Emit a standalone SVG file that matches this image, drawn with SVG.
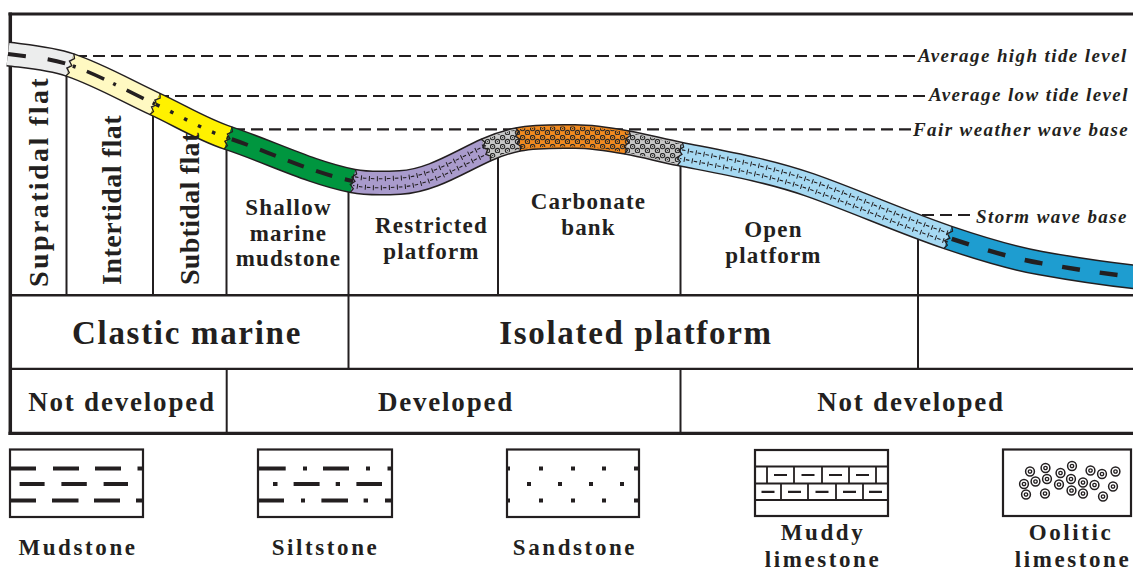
<svg xmlns="http://www.w3.org/2000/svg" xmlns:xlink="http://www.w3.org/1999/xlink" width="1133" height="570" viewBox="0 0 1133 570">
<style>
.ln{stroke:#231F20;fill:none}
.t{font-family:"Liberation Serif","Times New Roman",serif;font-weight:bold;fill:#231F20}
.z{font-size:23px;letter-spacing:1.2px;text-anchor:middle}
.big{font-size:33px;letter-spacing:1.7px;text-anchor:middle}
.row{font-size:27px;letter-spacing:1.8px;text-anchor:middle}
.lg{font-size:23px;letter-spacing:2.6px;text-anchor:middle}
.lv{font-size:19px;font-style:italic;letter-spacing:1.4px}
.dl{stroke:#231F20;stroke-width:2.2;stroke-dasharray:12 6;fill:none}
.band{fill:none;stroke-width:22;stroke-linecap:butt}
.pat{fill:none;stroke:#231F20;stroke-linecap:butt}
.brk{fill:none;stroke:#231F20;stroke-width:1.1;stroke-dasharray:3.5 4.5}
.tick{fill:none;stroke:#231F20;stroke-width:5;stroke-dasharray:1 7}
.blk{fill:#231F20}
</style>
<defs>
<path id="full" d="M8,54 C28.8,56.7 50.1,58.2 70,65 C99.5,75 126.7,91 155,104 C179.3,115.2 202.5,129.6 228,138 C269.9,151.8 309.7,172.4 353,181 C368.4,184.1 384.3,183.3 400,182.5 C430.6,181 458.1,162.6 486,150 C496.2,145.4 507,141.7 518,139.5 C536.6,135.8 556,136.5 575,136.5 C592.4,136.5 609.9,139.4 627,142.5 C644.8,145.7 662.2,150.5 680,154 C723.7,162.7 768,170.3 810,185 C856.4,201.3 901.4,221.7 948,237.5 C978.1,247.7 1008.7,257.4 1040,263 C1073.2,269 1106.5,274.1 1140,277.5"/>
<path id="s1" d="M8,54 C28.8,56.7 50.1,58.2 70,65"/>
<path id="s2" d="M70,65 C99.5,75 126.7,91 155,104"/>
<path id="s3" d="M155,104 C179.3,115.2 202.5,129.6 228,138"/>
<path id="s4" d="M228,138 C269.9,151.8 309.7,172.4 353,181"/>
<path id="s5" d="M353,181 C368.4,184.1 384.3,183.3 400,182.5 C430.6,181 458.1,162.6 486,150"/>
<path id="s6" d="M486,150 C496.2,145.4 507,141.7 518,139.5"/>
<path id="s7" d="M518,139.5 C536.6,135.8 556,136.5 575,136.5 C592.4,136.5 609.9,139.4 627,142.5"/>
<path id="s8" d="M627,142.5 C644.8,145.7 662.2,150.5 680,154"/>
<path id="s9" d="M680,154 C723.7,162.7 768,170.3 810,185 C856.4,201.3 901.4,221.7 948,237.5"/>
<path id="s10" d="M948,237.5 C978.1,247.7 1008.7,257.4 1040,263 C1073.2,269 1106.5,274.1 1140,277.5"/>
<path id="zz" d="M0,-12 L2.2,-7.5 L-1.8,-3.5 L2,0 L-2,4 L1.8,7.5 L-0.5,12" fill="none" stroke="#231F20" stroke-width="1.3"/>
<pattern id="oo" width="10" height="9" patternUnits="userSpaceOnUse">
<circle cx="2.6" cy="2.6" r="2.2" fill="none" stroke="#2a2a2a" stroke-width="1.1"/>
<circle cx="2.6" cy="2.6" r="0.7" fill="#2a2a2a"/>
<circle cx="7.5" cy="6.6" r="2.2" fill="none" stroke="#2a2a2a" stroke-width="1.1"/>
<circle cx="7.5" cy="6.6" r="0.7" fill="#2a2a2a"/>
</pattern>
<g id="ooid"><circle r="4.4" fill="none" stroke="#231F20" stroke-width="1.5"/><circle r="1.7" fill="none" stroke="#231F20" stroke-width="1.3"/></g>
</defs>
<rect width="1133" height="570" fill="#ffffff"/>

<g id="frame" class="ln">
<line x1="8.5" y1="14" x2="1133" y2="14" stroke-width="3"/>
<line x1="10.3" y1="12.5" x2="10.3" y2="435" stroke-width="3.5"/>
<line x1="8.5" y1="433.3" x2="1133" y2="433.3" stroke-width="3.3"/>
<line x1="10" y1="295.3" x2="1133" y2="295.3" stroke-width="2.5"/>
<line x1="10" y1="368.8" x2="1133" y2="368.8" stroke-width="2.3"/>
<g stroke-width="2">
<line x1="66.5" y1="60" x2="66.5" y2="295"/>
<line x1="153" y1="100" x2="153" y2="295"/>
<line x1="226.5" y1="135" x2="226.5" y2="295"/>
<line x1="348.5" y1="178" x2="348.5" y2="295"/>
<line x1="498" y1="142" x2="498" y2="295"/>
<line x1="680.5" y1="152" x2="680.5" y2="295"/>
<line x1="918" y1="224" x2="918" y2="295"/>
<line x1="348.5" y1="295" x2="348.5" y2="369"/>
<line x1="918" y1="295" x2="918" y2="369"/>
<line x1="226.7" y1="368" x2="226.7" y2="433"/>
<line x1="680.5" y1="368" x2="680.5" y2="433"/>
</g>
</g>

<g id="connectors">
<path class="dl" d="M75,56 H915"/>
<path class="dl" d="M157,96 H928"/>
<path class="dl" d="M233,129.3 H911"/>
<path class="dl" d="M922,215 H975"/>
</g>

<g id="facies-band">
<use xlink:href="#full" href="#full" style="fill:none;stroke:#231F20;stroke-width:25"/>
<use xlink:href="#s1" href="#s1" class="band" style="stroke:#ECEDED"/>
<use xlink:href="#s2" href="#s2" class="band" style="stroke:#FFF9C2"/>
<use xlink:href="#s3" href="#s3" class="band" style="stroke:#FFF100"/>
<use xlink:href="#s4" href="#s4" class="band" style="stroke:#00963F"/>
<use xlink:href="#s5" href="#s5" class="band" style="stroke:#A99BCC"/>
<use xlink:href="#s6" href="#s6" class="band" style="stroke:#C8C8C8"/>
<use xlink:href="#s7" href="#s7" class="band" style="stroke:#F18A1F"/>
<use xlink:href="#s8" href="#s8" class="band" style="stroke:#C8C8C8"/>
<use xlink:href="#s9" href="#s9" class="band" style="stroke:#A6D9F2"/>
<use xlink:href="#s10" href="#s10" class="band" style="stroke:#1E9DD0"/>
<use xlink:href="#s1" href="#s1" class="pat" style="stroke-width:4;stroke-dasharray:18 22"/>
<use xlink:href="#s2" href="#s2" class="pat" style="stroke-width:3.5;stroke-dasharray:19 10 3 12;stroke-dashoffset:26"/>
<use xlink:href="#s3" href="#s3" class="pat" style="stroke-width:3.5;stroke-dasharray:3.5 12;stroke-dashoffset:-1.5"/>
<use xlink:href="#s4" href="#s4" class="pat" style="stroke-width:4;stroke-dasharray:17 13;stroke-dashoffset:-4"/>
<use xlink:href="#s10" href="#s10" class="pat" style="stroke-width:4.5;stroke-dasharray:18 20;stroke-dashoffset:-4"/>
<use xlink:href="#s5" href="#s5" class="brk" transform="translate(0,-4.5)" style="stroke-dashoffset:-2"/>
<use xlink:href="#s5" href="#s5" class="tick" transform="translate(0,-4.5)"/>
<use xlink:href="#s5" href="#s5" class="brk" transform="translate(0,4.5)" style="stroke-dashoffset:-6"/>
<use xlink:href="#s5" href="#s5" class="tick" transform="translate(0,4.5)" style="stroke-dashoffset:-4"/>
<use xlink:href="#s9" href="#s9" class="brk" transform="translate(0,-4.5)" style="stroke-dashoffset:-2"/>
<use xlink:href="#s9" href="#s9" class="tick" transform="translate(0,-4.5)"/>
<use xlink:href="#s9" href="#s9" class="brk" transform="translate(0,4.5)" style="stroke-dashoffset:-6"/>
<use xlink:href="#s9" href="#s9" class="tick" transform="translate(0,4.5)" style="stroke-dashoffset:-4"/>
<use xlink:href="#s6" href="#s6" style="fill:none;stroke:url(#oo);stroke-width:20"/>
<use xlink:href="#s7" href="#s7" style="fill:none;stroke:url(#oo);stroke-width:20"/>
<use xlink:href="#s8" href="#s8" style="fill:none;stroke:url(#oo);stroke-width:20"/>
<use xlink:href="#zz" href="#zz" transform="translate(70,65) rotate(18.8)"/>
<use xlink:href="#zz" href="#zz" transform="translate(155,104) rotate(24.7)"/>
<use xlink:href="#zz" href="#zz" transform="translate(228,138) rotate(18.3)"/>
<use xlink:href="#zz" href="#zz" transform="translate(353,181) rotate(11.3)"/>
<use xlink:href="#zz" href="#zz" transform="translate(486,150) rotate(-24.2)"/>
<use xlink:href="#zz" href="#zz" transform="translate(518,139.5) rotate(-11.3)"/>
<use xlink:href="#zz" href="#zz" transform="translate(627,142.5) rotate(10.2)"/>
<use xlink:href="#zz" href="#zz" transform="translate(680,154) rotate(11.3)"/>
<use xlink:href="#zz" href="#zz" transform="translate(948,237.5) rotate(18.8)"/>
</g>

<g id="level-labels">
<text class="t lv" x="918" y="62">Average high tide level</text>
<text class="t lv" x="929" y="100.5">Average low tide level</text>
<text class="t lv" x="913" y="136">Fair weather wave base</text>
<text class="t lv" x="976" y="223">Storm wave base</text>
</g>

<g id="supratidal-flat"><text class="t" style="font-size:28px;letter-spacing:2.4px" transform="translate(48,287) rotate(-90)">Supratidal flat</text></g>
<g id="intertidal-flat"><text class="t" style="font-size:28px;letter-spacing:0.5px" transform="translate(120.5,285) rotate(-90)">Intertidal flat</text></g>
<g id="subtidal-flat"><text class="t" style="font-size:28px;letter-spacing:0.3px" transform="translate(198.5,285) rotate(-90)">Subtidal flat</text></g>
<g id="shallow-marine-mudstone">
<text class="t z" x="288.5" y="215">Shallow</text>
<text class="t z" x="288.5" y="240.5">marine</text>
<text class="t z" x="288.5" y="266">mudstone</text>
</g>
<g id="restricted-platform">
<text class="t z" x="431.5" y="233">Restricted</text>
<text class="t z" x="431.5" y="258.5">platform</text>
</g>
<g id="carbonate-bank">
<text class="t z" x="588.5" y="209">Carbonate</text>
<text class="t z" x="588.5" y="235">bank</text>
</g>
<g id="open-platform">
<text class="t z" x="773.5" y="237">Open</text>
<text class="t z" x="773.5" y="263">platform</text>
</g>
<g id="clastic-marine"><text class="t big" x="187" y="344">Clastic marine</text></g>
<g id="isolated-platform"><text class="t big" x="636" y="344">Isolated platform</text></g>
<g id="not-developed-1"><text class="t row" x="122" y="411">Not developed</text></g>
<g id="developed"><text class="t row" x="446" y="411">Developed</text></g>
<g id="not-developed-2"><text class="t row" x="911" y="411">Not developed</text></g>

<g id="legend-mudstone">
<rect x="10" y="449.5" width="133" height="67.5" class="ln" stroke-width="2.2"/>
<path class="ln" stroke-width="4" d="M10,468.5 H36 M53,468.5 H79 M95,468.5 H121 M137.5,468.5 H142 M19.6,484 H44.6 M61.4,484 H86.8 M103.6,484 H128 M10,500.5 H36 M52,500.5 H78.5 M94,500.5 H120 M136,500.5 H142"/>
<text class="t lg" x="78" y="555">Mudstone</text>
</g>
<g id="legend-siltstone">
<rect x="258" y="449.5" width="134" height="67.5" class="ln" stroke-width="2.2"/>
<path class="ln" stroke-width="4" d="M259,468.5 H285.7 M303,468.5 H307 M323,468.5 H349 M366,468.5 H370 M387.5,468.5 H391 M273,484 H277.5 M293.6,484 H319.6 M335.7,484 H340 M356.4,484 H382 M259,500.5 H284 M301,500.5 H305 M321.4,500.5 H348 M363.6,500.5 H368 M385,500.5 H391"/>
<text class="t lg" x="325.5" y="555">Siltstone</text>
</g>
<g id="legend-sandstone">
<rect x="507" y="449.5" width="132" height="67.5" class="ln" stroke-width="2.2"/>
<g class="blk">
<rect x="507" y="466.5" width="3" height="4"/><rect x="539" y="466.5" width="4" height="4"/><rect x="571" y="466.5" width="4" height="4"/><rect x="602" y="466.5" width="4" height="4"/><rect x="634" y="466.5" width="4" height="4"/>
<rect x="527" y="482" width="4" height="4"/><rect x="558" y="482" width="4" height="4"/><rect x="589" y="482" width="4" height="4"/><rect x="620" y="482" width="4" height="4"/>
<rect x="507" y="498.5" width="3" height="4"/><rect x="539" y="498.5" width="4" height="4"/><rect x="571" y="498.5" width="4" height="4"/><rect x="602" y="498.5" width="4" height="4"/><rect x="634" y="498.5" width="4" height="4"/>
</g>
<text class="t lg" x="575" y="555">Sandstone</text>
</g>
<g id="legend-muddy-limestone">
<rect x="755" y="450" width="133" height="66" class="ln" stroke-width="2.2"/>
<path class="ln" stroke-width="1.8" d="M755,466.5 H888 M755,483.5 H888 M755,500 H888 M767,466.5 V483.5 M794,466.5 V483.5 M822,466.5 V483.5 M849,466.5 V483.5 M876,466.5 V483.5 M781,483.5 V500 M808,483.5 V500 M836,483.5 V500 M863,483.5 V500"/>
<path class="ln" stroke-width="2.2" d="M774,475 h13 M801.5,475 h13 M829,475 h13 M856,475 h13 M761.5,491.8 h13 M788,491.8 h13 M815.5,491.8 h13 M843,491.8 h13 M869,491.8 h13"/>
<text class="t lg" x="823" y="540">Muddy</text>
<text class="t lg" x="823" y="567">limestone</text>
</g>
<g id="legend-oolitic-limestone">
<rect x="1003" y="449.5" width="128" height="66.5" class="ln" stroke-width="2.2"/>
<use xlink:href="#ooid" href="#ooid" x="1030" y="471.5"/>
<use xlink:href="#ooid" href="#ooid" x="1045.5" y="468"/>
<use xlink:href="#ooid" href="#ooid" x="1060.5" y="473"/>
<use xlink:href="#ooid" href="#ooid" x="1072" y="466"/>
<use xlink:href="#ooid" href="#ooid" x="1090.5" y="470.5"/>
<use xlink:href="#ooid" href="#ooid" x="1102" y="474"/>
<use xlink:href="#ooid" href="#ooid" x="1115.5" y="471.5"/>
<use xlink:href="#ooid" href="#ooid" x="1024" y="484"/>
<use xlink:href="#ooid" href="#ooid" x="1035.5" y="481.5"/>
<use xlink:href="#ooid" href="#ooid" x="1047" y="479"/>
<use xlink:href="#ooid" href="#ooid" x="1059" y="484.5"/>
<use xlink:href="#ooid" href="#ooid" x="1071" y="479"/>
<use xlink:href="#ooid" href="#ooid" x="1083" y="482.5"/>
<use xlink:href="#ooid" href="#ooid" x="1094.5" y="485"/>
<use xlink:href="#ooid" href="#ooid" x="1113" y="486.5"/>
<use xlink:href="#ooid" href="#ooid" x="1026" y="494.5"/>
<use xlink:href="#ooid" href="#ooid" x="1045" y="493.5"/>
<use xlink:href="#ooid" href="#ooid" x="1071.5" y="490.5"/>
<use xlink:href="#ooid" href="#ooid" x="1083" y="493.5"/>
<use xlink:href="#ooid" href="#ooid" x="1103" y="496.5"/>
<text class="t lg" x="1071" y="540">Oolitic</text>
<text class="t lg" x="1073" y="567">limestone</text>
</g>
</svg>
